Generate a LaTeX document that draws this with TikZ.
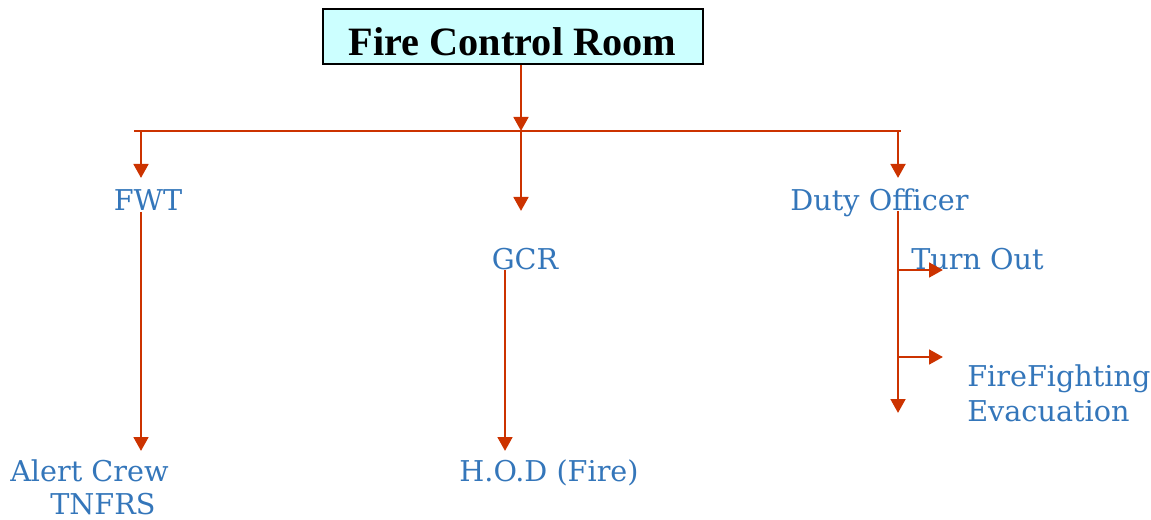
\documentclass[tikz,border=0pt]{standalone}
\usepackage{fontspec}
\setmainfont{Liberation Serif}
\newfontfamily\bluefont{DejaVu Serif}
\usetikzlibrary{arrows.meta}
\definecolor{linecol}{RGB}{204,51,0}
\definecolor{txtblue}{RGB}{52,118,186}
\definecolor{boxfill}{RGB}{204,255,255}
\tikzset{
  conn/.style={draw=linecol, line width=2.1pt},
  arr/.style={conn, -{Triangle[length=10.5pt,width=11pt]}},
  lbl/.style={text=txtblue, font=\bluefont\fontsize{21.5}{27}\selectfont, inner sep=0pt},
  title/.style={draw=black, line width=1.4pt, fill=boxfill, minimum width=285pt, minimum height=41pt, inner sep=0pt},
  titletxt/.style={font=\bfseries\fontsize{30.2}{34}\selectfont, inner sep=0pt}
}
\begin{document}
\begin{tikzpicture}[x=0.75pt,y=-0.75pt]
\useasboundingbox (0,0) rectangle (1151,520);
\node[title] (fcr) at (513,36.5) {};
\node[titletxt, anchor=base] (fcrtxt) at (512.5,56) {Fire Control Room};
\coordinate (busL) at (134,131);
\coordinate (busR) at (901,131);
\coordinate (busM) at (521,131);
\coordinate (bus1) at (141,131);
\coordinate (bus3) at (898,131);
\node[lbl, anchor=base] (fwt) at (148,210) {FWT};
\node[lbl, anchor=base] (gcr) at (525,269) {GCR};
\node[lbl, anchor=base] (duty) at (879.5,210) {Duty Officer};
\node[lbl, anchor=base west] (turn) at (911,269) {Turn Out};
\node[lbl, anchor=base west] (ff1) at (967,386) {FireFighting};
\node[lbl, anchor=base west] (ff2) at (967,421) {Evacuation};
\node[lbl, anchor=base west] (alert1) at (10,481) {Alert Crew};
\node[lbl, anchor=base west] (alert2) at (50,514) {TNFRS};
\node[lbl, anchor=base] (hod) at (549,481) {H.O.D (Fire)};
\coordinate (fwtS) at (141,212);
\coordinate (fwtT) at (141,451);
\coordinate (gcrS) at (505,270);
\coordinate (gcrT) at (505,451);
\coordinate (dutyS) at (898,211);
\coordinate (dutyT) at (898,413);
\coordinate (b1) at (898,270);
\coordinate (b1T) at (943,270);
\coordinate (b2) at (898,357);
\coordinate (b2T) at (943,357);
\coordinate (gcrTop) at (521,211);
\coordinate (fwtTop) at (141,178);
\coordinate (dutyTop) at (898,178);
\draw[conn] (busL) -- (busR);
\draw[arr] (fcr.south -| busM) -- (busM);
\draw[arr] (bus1) -- (fwtTop);
\draw[arr] (busM) -- (gcrTop);
\draw[arr] (bus3) -- (dutyTop);
\draw[arr] (fwtS) -- (fwtT);
\draw[arr] (gcrS) -- (gcrT);
\draw[arr] (dutyS) -- (dutyT);
\draw[arr] (b1) -- (b1T);
\draw[arr] (b2) -- (b2T);
\end{tikzpicture}
\end{document}
